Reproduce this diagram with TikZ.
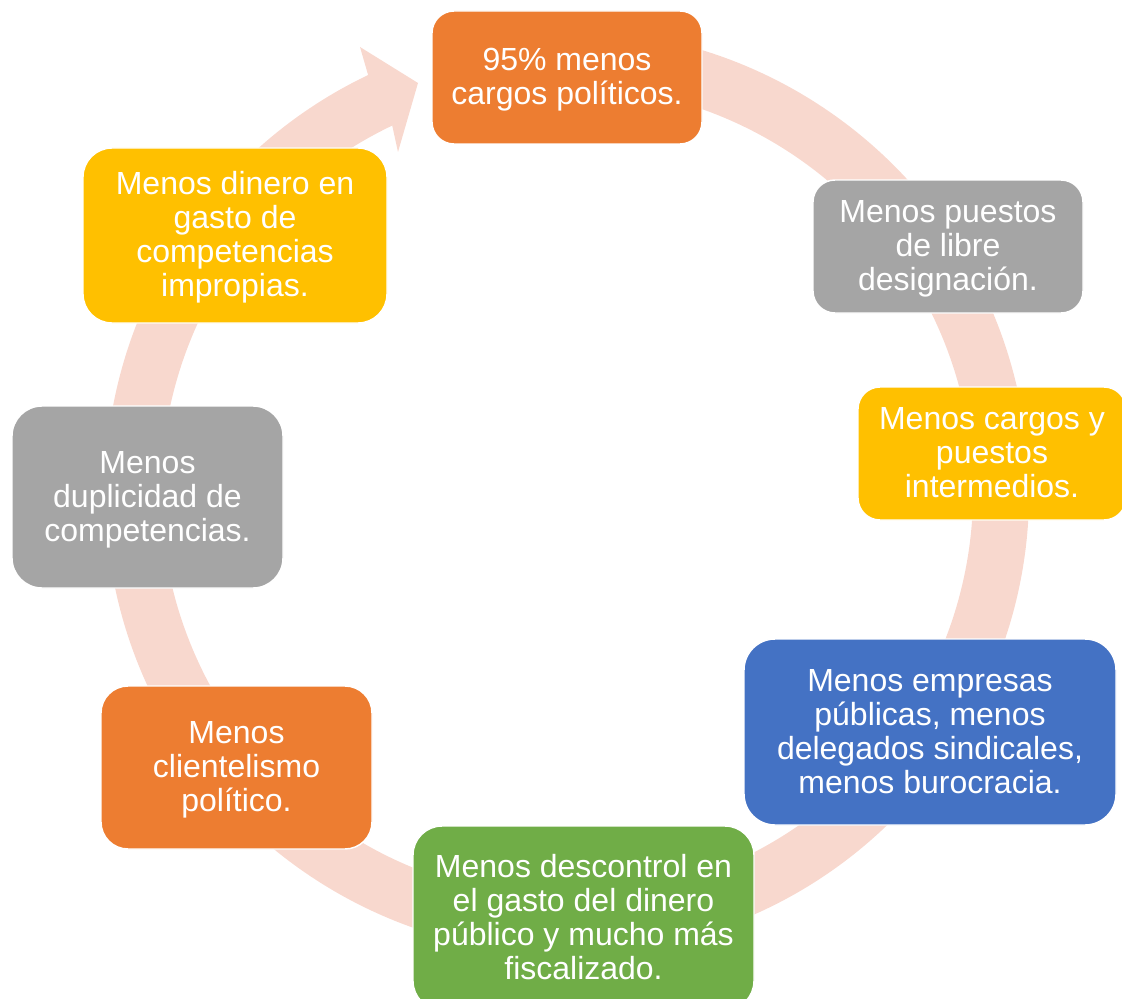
\documentclass[tikz,border=0pt]{standalone}
\usepackage{fontspec}
\setmainfont{Liberation Sans}
\usetikzlibrary{calc}
\definecolor{orangeC}{HTML}{ED7D31}
\definecolor{grayC}{HTML}{A5A5A5}
\definecolor{yellowC}{HTML}{FFC000}
\definecolor{blueC}{HTML}{4472C4}
\definecolor{greenC}{HTML}{70AD47}
\definecolor{ringC}{HTML}{F8D8CE}
\newcommand{\sx}{\rule[-5.2pt]{0pt}{25.4pt}}
\begin{document}
\begin{tikzpicture}[x=0.75pt,y=-0.75pt,
  box/.style n args={4}{fill=#1, minimum width={#2*0.75pt}, minimum height={#3*0.75pt},
    rounded corners={#4*0.75pt}, draw=white, line width=1.1pt, text=white,
    align=center, inner sep=0pt, font=\fontsize{24}{25.5}\selectfont}]
\useasboundingbox (0,0) rectangle (1122,999);
\coordinate (C) at (567,492);
% circular arrow
\fill[ringC] ($(C)+(-100:462)$) arc[start angle=-100,end angle=244.5,radius=462]
  -- (360,47) -- (418,83) -- (398,152)
  -- ($(C)+(244.5:406)$) arc[start angle=244.5,end angle=-100,radius=406] -- cycle;
% boxes
\node[box={orangeC}{270}{133}{22}] (n1) at (567,77.5)
  {\sx 95\% menos\\\sx cargos políticos.};
\node[box={grayC}{270}{133}{22}] (n2) at (948,246.5)
  {\sx Menos puestos\\\sx de libre\\\sx designación.};
\node[box={yellowC}{268}{133}{22}] (n3) at (992,453.5)
  {\sx Menos cargos y\\\sx puestos\\\sx intermedios.};
\node[box={blueC}{372}{186}{31}] (n4) at (930,732)
  {\sx Menos empresas\\\sx públicas, menos\\\sx delegados sindicales,\\\sx menos burocracia.};
\node[box={greenC}{341}{184}{29}] (n5) at (583.5,918)
  {\sx Menos descontrol en\\\sx el gasto del dinero\\\sx público y mucho más\\\sx fiscalizado.};
\node[box={orangeC}{271}{163}{27}] (n6) at (236.5,767.5)
  {\sx Menos\\\sx clientelismo\\\sx político.};
\node[box={grayC}{271}{182}{30}] (n7) at (147.5,497)
  {\sx Menos\\\sx duplicidad de\\\sx competencias.};
\node[box={yellowC}{304}{175}{29}] (n8) at (235,235.5)
  {\sx Menos dinero en\\\sx gasto de\\\sx competencias\\\sx impropias.};
\end{tikzpicture}
\end{document}
